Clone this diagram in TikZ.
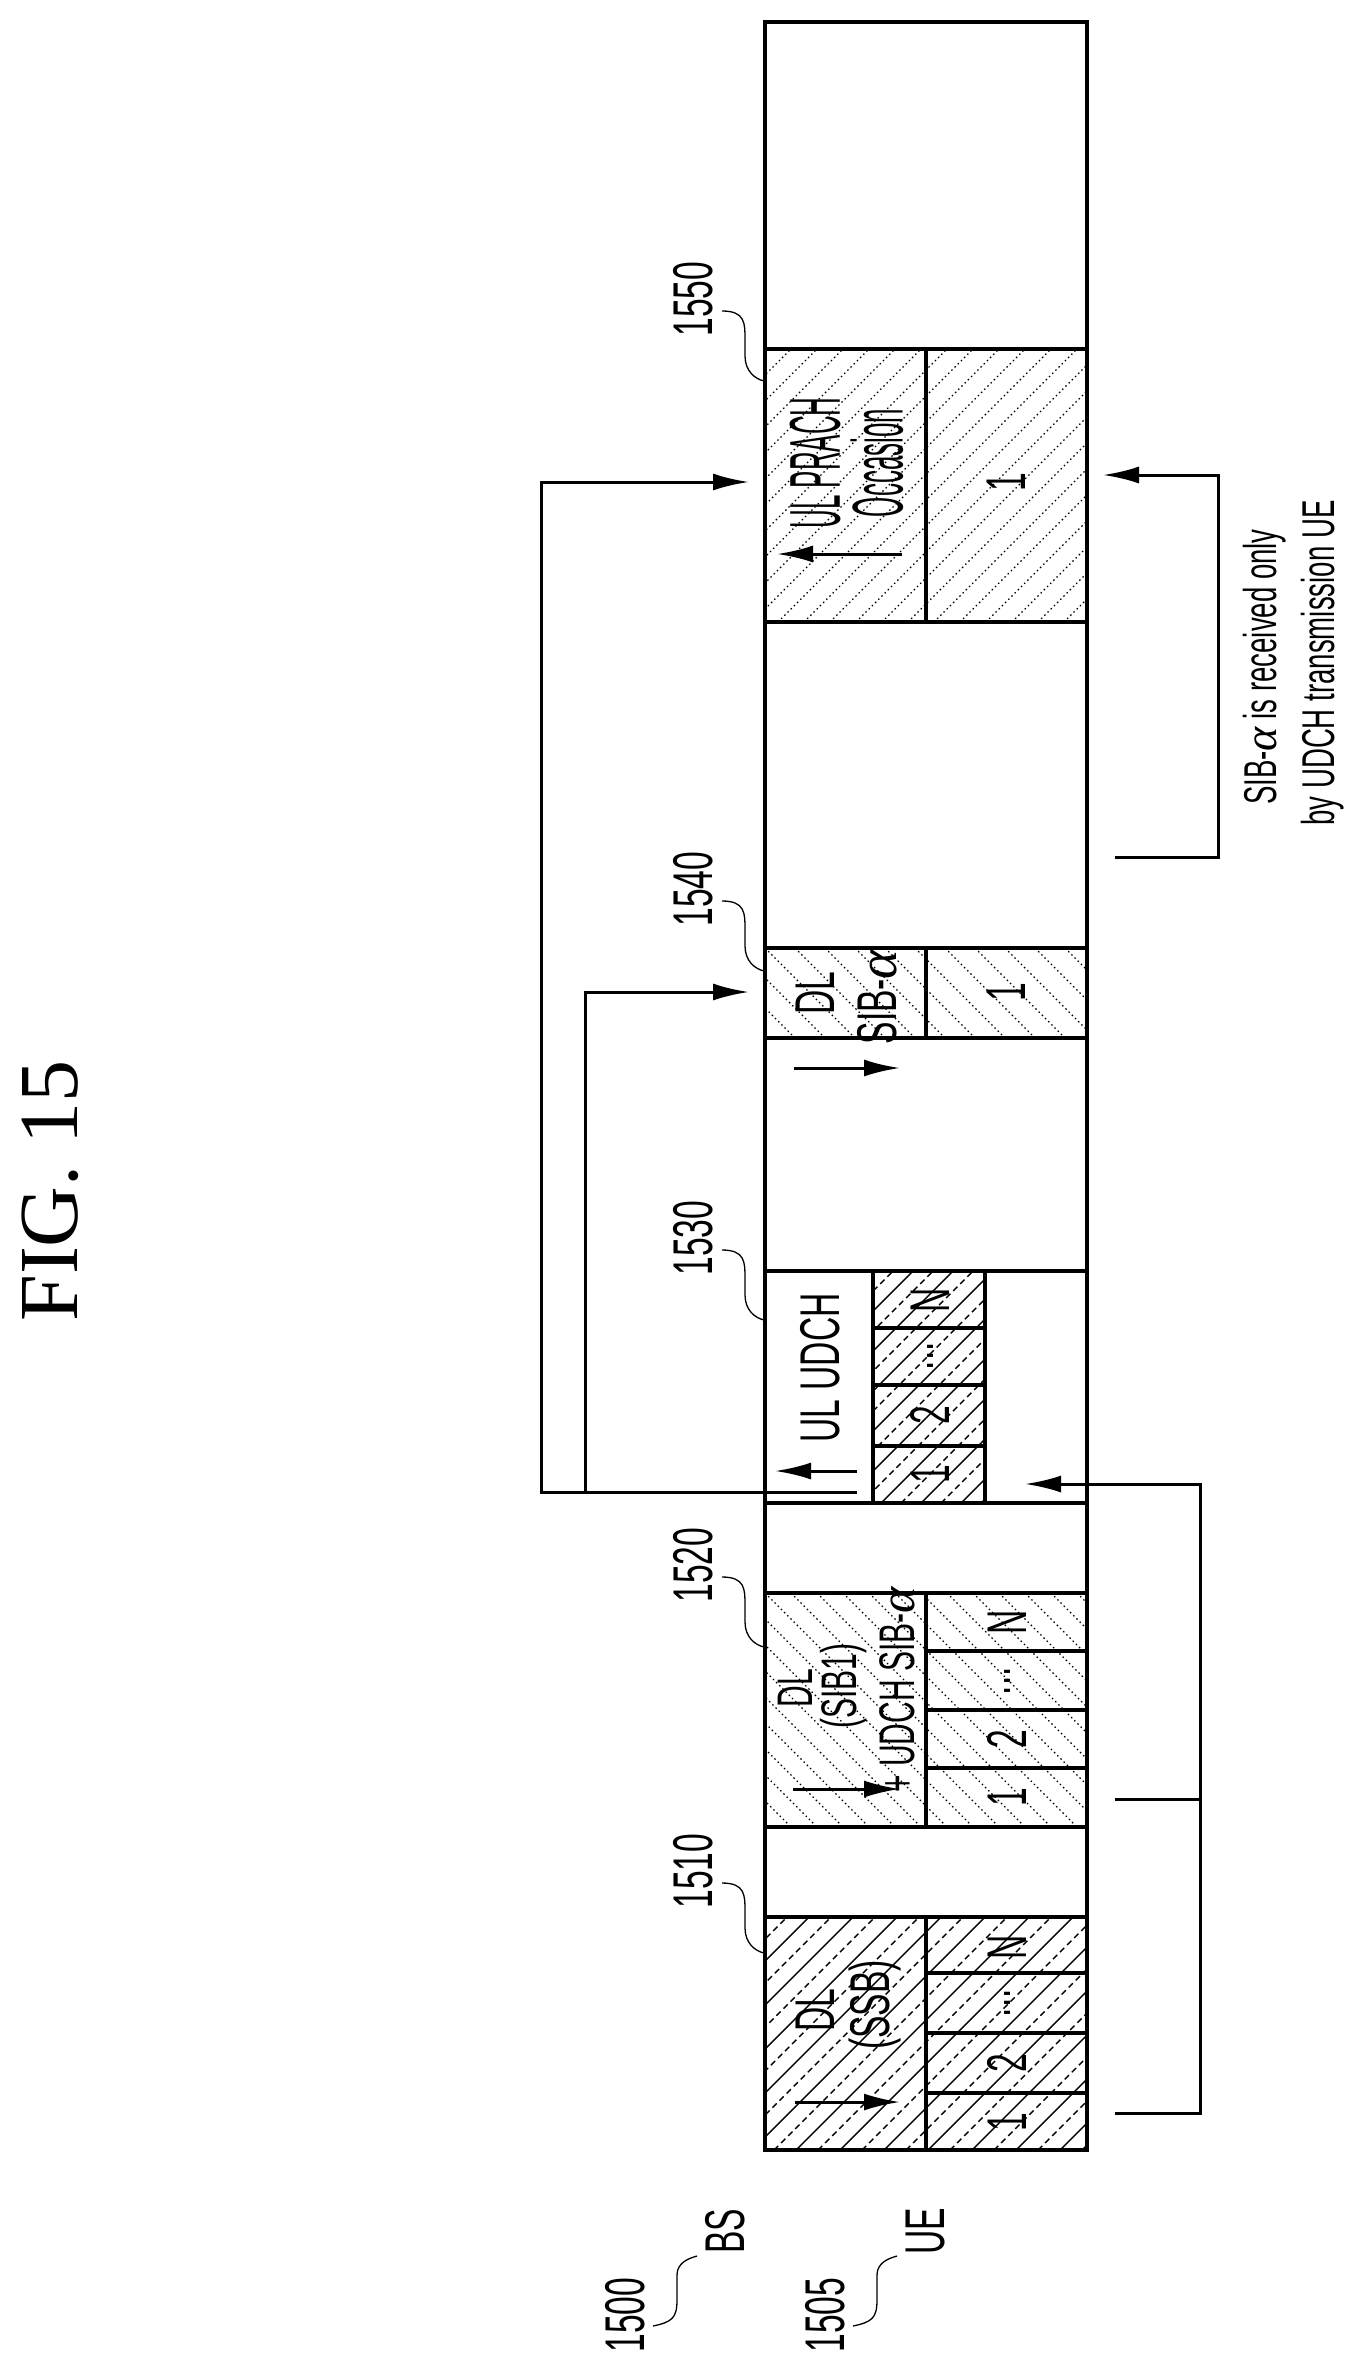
\documentclass[tikz,border=0pt]{standalone}
\usepackage{fontspec}
\setmainfont{Liberation Serif}
\newfontfamily\cf[FakeStretch=0.6]{Liberation Sans}
\newfontfamily\cfn[FakeStretch=0.36]{Liberation Sans}
\newfontfamily\gf{Liberation Serif}
\usetikzlibrary{arrows.meta}
\newcommand\alp{{\gf\itshape α}}
\newcommand\hatchA[7]{% "/" lines: x1,y1,x2,y2,step,offset,style
 \begin{scope}\clip (#1,#2) rectangle (#3,#4);
 \pgfmathsetmacro\hs{#1+#2+#6}\pgfmathsetmacro\hn{#1+#2+#6+#5}\pgfmathsetmacro\he{#3+#4}
 \foreach \c in {\hs,\hn,...,\he} \draw[#7] (\c-#4,#4) -- (\c-#2,#2);
 \end{scope}}
\newcommand\hatchB[7]{% "\" lines
 \begin{scope}\clip (#1,#2) rectangle (#3,#4);
 \pgfmathsetmacro\hs{#1-#4+#6}\pgfmathsetmacro\hn{#1-#4+#6+#5}\pgfmathsetmacro\he{#3-#2}
 \foreach \c in {\hs,\hn,...,\he} \draw[#7] (\c+#2,#2) -- (\c+#4,#4);
 \end{scope}}
\tikzset{
 box/.style={line width=4pt},
 conn/.style={line width=3pt},
 arr/.style={line width=3pt,-{Latex[length=36pt,width=17pt]}},
 lead/.style={line width=1.3pt},
 big/.style={font=\cf\fontsize{56}{60}\selectfont,rotate=90,inner sep=0},
 nar/.style={font=\cfn\fontsize{72}{76}\selectfont,rotate=90,inner sep=0},
 mid/.style={font=\cf\fontsize{50}{54}\selectfont,rotate=90,inner sep=0},
 sml/.style={font=\cf\fontsize{46}{50}\selectfont,rotate=90,inner sep=0},
 hs/.style={line width=1.4pt},
 hd/.style={line width=1.4pt,dash pattern=on 6pt off 4pt},
 hdot/.style={line width=1.2pt,dash pattern=on 1.5pt off 3pt},
}
\begin{document}
\begin{tikzpicture}[x=1pt,y=-1pt]
\useasboundingbox (0,0) rectangle (1368,2376);
% hatching
\hatchA{765}{1917}{1087}{2150}{44}{0}{hs}
\hatchA{765}{1917}{1087}{2150}{44}{22}{hd}
\hatchB{765}{1593}{1087}{1827}{26}{0}{hdot}
\hatchA{873}{1271}{985}{1503}{40}{0}{hs}
\hatchA{873}{1271}{985}{1503}{40}{20}{hd}
\hatchB{765}{948}{1087}{1038}{30}{0}{hdot}
\hatchA{765}{349}{1087}{622}{26}{0}{hdot}
% strip
\draw[box] (765,22) rectangle (1087,2150);
\foreach \y in {349,622,948,1038,1271,1503,1593,1827,1917} \draw[box] (765,\y) -- (1087,\y);
\draw[box] (926,349) -- (926,622);
\draw[box] (926,948) -- (926,1038);
\draw[box] (873,1271) -- (873,1503);
\draw[box] (985,1271) -- (985,1503);
\draw[box] (926,1593) -- (926,1827);
\draw[box] (926,1917) -- (926,2150);
\foreach \y in {1328,1385,1446} \draw[box] (873,\y) -- (985,\y);
\foreach \y in {1651,1710,1768,1973,2033,2093} \draw[box] (926,\y) -- (1087,\y);
% texts in blocks
\node[big] (t1a) at (815,2010) {DL};
\node[big] (t1b) at (875,2005) {(SSB)};
\node[big] (n1a) at (1007,1947) {N};
\node[big] (n1b) at (1007,2003) {...};
\node[big] (n1c) at (1007,2063) {2};
\node[big] (n1d) at (1007,2122) {1};
\node[mid] (t2a) at (795,1688) {DL};
\node[mid] (t2b) at (844,1686) {(SIB1)};
\node[mid] (t2c) at (897,1690) {+ UDCH SIB-\alp};
\node[big] (n2a) at (1007,1622) {N};
\node[big] (n2b) at (1007,1681) {...};
\node[big] (n2c) at (1007,1739) {2};
\node[big] (n2d) at (1007,1797) {1};
\node[big] (t3) at (820,1368) {UL UDCH};
\node[big] (n3a) at (930,1300) {N};
\node[big] (n3b) at (930,1356) {...};
\node[big] (n3c) at (930,1415) {2};
\node[big] (n3d) at (930,1474) {1};
\node[big] (t4a) at (815,993) {DL};
\node[big] (t4b) at (877,997) {SIB-\alp};
\node[big] (n4) at (1006,992) {1};
\node[nar] (t5a) at (815,463) {UL PRACH};
\node[nar] (t5b) at (877,463) {Occasion};
\node[big] (n5) at (1006,482) {1};
% inner arrows
\draw[arr] (795,2102) -- (900,2102);
\draw[arr] (793,1789) -- (900,1789);
\draw[arr] (857,1471) -- (775,1471);
\draw[arr] (794,1068) -- (900,1068);
\draw[arr] (902,554) -- (777,554);
% feedback connectors
\coordinate (fs) at (857,1492);
\coordinate (e50) at (749,482);
\coordinate (e40) at (749,992);
\draw[arr] (fs) -- (541,1492) -- (541,482) -- (e50);
\draw[arr] (585,1492) -- (585,992) -- (e40);
% UE bracket
\coordinate (ue1) at (1025,1484);
\draw[arr] (1200,1799) -- (1200,1484) -- (ue1);
\draw[conn] (1115,1799) -- (1200,1799) -- (1200,2113) -- (1115,2113);
% SIB-alpha bracket
\coordinate (sa) at (1103,475);
\draw[arr] (1115,857) -- (1218,857) -- (1218,475) -- (sa);
\node[sml] (c1) at (1265,667) {SIB-\alp{} is received only};
\node[sml] (c2) at (1323,663) {by UDCH transmission UE};
% reference labels
\foreach \n/\ly in {1550/299,1540/889,1530/1238,1520/1565,1510/1871}{
 \node[big] (r\n) at (693,\ly) {\n};
 \pgfmathsetmacro\s{\ly+12}
 \draw[lead] (722,\s) .. controls (745,\s) and (745,\s+12) .. (745,\s+28) -- (745,\s+45) .. controls (745,\s+60) and (755,\s+68) .. (764,\s+70);
}
\node[big] (r1500) at (625,2315) {1500};
\node[big] (bs) at (725,2231) {BS};
\draw[lead] (653,2326) .. controls (672,2322) and (677,2318) .. (677,2300) -- (677,2275) .. controls (677,2262) and (690,2258) .. (697,2256);
\node[big] (r1505) at (825,2315) {1505};
\node[big] (ue) at (925,2231) {UE};
\draw[lead] (853,2326) .. controls (872,2322) and (877,2318) .. (877,2300) -- (877,2275) .. controls (877,2262) and (890,2258) .. (897,2256);
\node[rotate=90,font=\fontsize{84}{90}\selectfont,inner sep=0] (fig) at (50,1191) {FIG. 15};
\end{tikzpicture}
\end{document}
